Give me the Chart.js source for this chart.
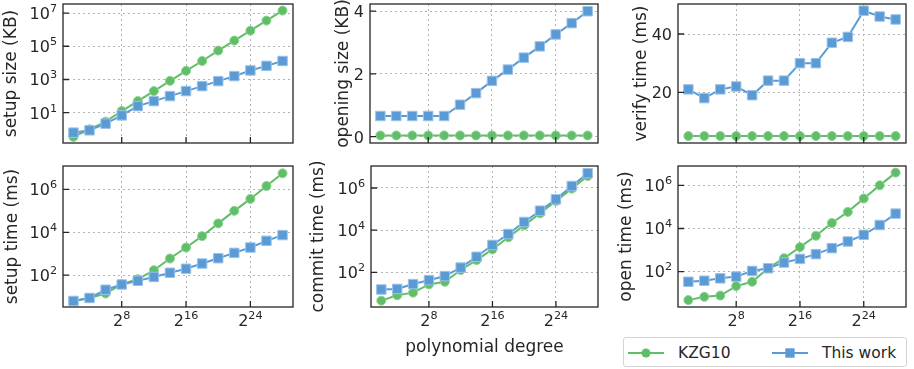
<!DOCTYPE html>
<html>
<head>
<meta charset="utf-8">
<script src="https://cdn.jsdelivr.net/npm/chart.js@4/dist/chart.umd.min.js"></script>
<style>
  body { margin: 0; background: #fff; width: 914px; height: 369px; position: relative; overflow: hidden; font-family: "DejaVu Sans", sans-serif; color: #262626; }
  canvas { position: absolute; }
  #legend { position: absolute; left: 623px; top: 337px; width: 284px; height: 30px; border: 1px solid #d4d4d4; border-radius: 3px; box-sizing: border-box; }
  #legend .item { position: absolute; top: 0; height: 30px; display: flex; align-items: center; font-size: 15.5px; }
  #legend svg { margin-right: 14px; }
</style>
</head>
<body>
<div id="legend"></div>
<script>
// polynomial degree = 2^k
const logDegree = [2, 4, 6, 8, 10, 12, 14, 16, 18, 20, 22, 24, 26, 28];
const xTickExp = [8, 16, 24];
const seriesNames = ['KZG10', 'This work'];

// setup size (KB)
const setupSizeKzg = [0.35, 1.0, 2.9, 12.6, 50, 200, 830, 3300, 13000, 55000, 220000, 870000, 3.5e6, 1.4e7];
const setupSizeOurs = [0.63, 0.87, 2.2, 6.9, 25, 50, 100, 200, 400, 800, 1600, 3500, 6600, 13000];
// opening size (KB)
const openingSizeKzg = [0.04, 0.04, 0.04, 0.04, 0.04, 0.04, 0.04, 0.04, 0.04, 0.04, 0.04, 0.04, 0.04, 0.04];
const openingSizeOurs = [0.66, 0.66, 0.66, 0.66, 0.66, 1.02, 1.39, 1.78, 2.14, 2.52, 2.88, 3.26, 3.62, 4.0];
// verify time (ms)
const verifyKzg = [5, 5, 5, 5, 5, 5, 5, 5, 5, 5, 5, 5, 5, 5];
const verifyOurs = [21, 18, 21, 22, 19, 24, 24, 30, 30, 37, 39, 48, 46, 45];
// setup time (ms)
const setupTimeKzg = [6.3, 8.7, 14, 38, 65, 170, 600, 1950, 6600, 26000, 100000, 360000, 1.44e6, 5.6e6];
const setupTimeOurs = [6.3, 8.7, 21, 37, 55, 83, 130, 200, 350, 620, 1100, 1950, 4000, 7400];
// commit time (ms)
const commitKzg = [4.6, 8.3, 11, 27, 36, 130, 385, 1230, 4600, 17000, 63000, 240000, 930000, 3.7e6];
const commitOurs = [15.5, 16.5, 28, 43, 67, 170, 550, 2000, 6600, 24500, 84000, 290000, 1.24e6, 5.0e6];
// open time (ms)
const openKzg = [4.8, 6.8, 7.8, 21.5, 34, 144, 420, 1370, 4600, 18000, 59000, 245000, 1.0e6, 3.9e6];
const openOurs = [34, 38, 49, 59, 108, 144, 264, 390, 650, 1230, 2500, 5100, 14500, 49000];

const GREEN = '#60bd68';
const BLUE = '#5b9bd5';
const FONT = '"DejaVu Sans", sans-serif';
const INK = '#262626';
const TICK_PX = 16;
const SUP_PX = 11.2;

// layout of the 2x3 grid
const colLeft = [0, 305, 610];
const panels = [
  { canvas: 'c0', col: 0, area: [63, 4, 293, 143], title: 'setup size (KB)', titleX: 12, log: true, yMin: 0.15, yMax: 3.5e7, yTicks: [10, 1e3, 1e5, 1e7], kzg: setupSizeKzg, ours: setupSizeOurs },
  { canvas: 'c1', col: 1, area: [370, 4, 598, 143], title: 'opening size (KB)', titleX: 344, log: false, yMin: -0.2, yMax: 4.23, yTicks: [0, 2, 4], kzg: openingSizeKzg, ours: openingSizeOurs },
  { canvas: 'c2', col: 2, area: [678, 4, 906, 143], title: 'verify time (ms)', titleX: 642, log: false, yMin: 2.6, yMax: 50.3, yTicks: [20, 40], kzg: verifyKzg, ours: verifyOurs },
  { canvas: 'c3', col: 0, area: [63, 166, 293, 307], title: 'setup time (ms)', titleX: 13, log: true, yMin: 3.3, yMax: 1.23e7, yTicks: [1e2, 1e4, 1e6], kzg: setupTimeKzg, ours: setupTimeOurs, xLabels: true },
  { canvas: 'c4', col: 1, area: [371, 166, 598, 307], title: 'commit time (ms)', titleX: 319, log: true, yMin: 2.3, yMax: 1.1e7, yTicks: [1e2, 1e4, 1e6], kzg: commitKzg, ours: commitOurs, xLabels: true, xTitle: 'polynomial degree' },
  { canvas: 'c5', col: 2, area: [678, 166, 906, 307], title: 'open time (ms)', titleX: 627, log: true, yMin: 2.3, yMax: 7.9e6, yTicks: [1e2, 1e4, 1e6], kzg: openKzg, ours: openOurs, xLabels: true }
];

// base with a raised exponent, like matplotlib mathtext
function drawPow(ctx, base, exp, x, baseline, align) {
  ctx.font = `${TICK_PX}px ${FONT}`;
  const wb = ctx.measureText(base).width;
  ctx.font = `${SUP_PX}px ${FONT}`;
  const we = exp === '' ? 0 : ctx.measureText(exp).width;
  const x0 = align === 'right' ? x - wb - we : x - (wb + we) / 2;
  ctx.textAlign = 'left';
  ctx.textBaseline = 'alphabetic';
  ctx.font = `${TICK_PX}px ${FONT}`;
  ctx.fillText(base, x0, baseline);
  if (exp !== '') {
    ctx.font = `${SUP_PX}px ${FONT}`;
    ctx.fillText(exp, x0 + wb, baseline - 7);
  }
}

// box around the plot area, inward tick marks and the tick labels
const frame = {
  id: 'frame',
  afterDraw(chart) {
    const p = chart.config.options.panel;
    const { ctx, chartArea: a, scales: { x, y } } = chart;
    ctx.save();
    ctx.strokeStyle = INK;
    ctx.lineWidth = 1.3;
    ctx.strokeRect(a.left, a.top, a.right - a.left, a.bottom - a.top);
    ctx.beginPath();
    x.ticks.forEach(t => {
      const px = x.getPixelForValue(t.value);
      ctx.moveTo(px, a.bottom); ctx.lineTo(px, a.bottom - 6);
    });
    y.ticks.forEach(t => {
      const py = y.getPixelForValue(t.value);
      ctx.moveTo(a.left, py); ctx.lineTo(a.left + 6, py);
    });
    ctx.stroke();

    ctx.fillStyle = INK;
    y.ticks.forEach(t => {
      const py = y.getPixelForValue(t.value) + 5.8;
      if (p.log) drawPow(ctx, '10', String(Math.round(Math.log10(t.value))), a.left - 6, py, 'right');
      else drawPow(ctx, String(t.value), '', a.left - 6, py, 'right');
    });
    if (p.xLabels) {
      x.ticks.forEach(t => {
        drawPow(ctx, '2', String(t.value), x.getPixelForValue(t.value), a.bottom + 19, 'center');
      });
    }
    ctx.restore();
  }
};

const pts = vals => logDegree.map((k, i) => ({ x: k, y: vals[i] }));

panels.forEach(p => {
  const [L, T, R, B] = p.area;
  const left = colLeft[p.col];
  const top = T - 4;
  const xH = p.xTitle ? 51 : (p.xLabels ? 30 : 4);
  const cv = document.createElement('canvas');
  cv.id = p.canvas;
  cv.width = R + 6 - left;
  cv.height = B - top + xH;
  cv.style.left = left + 'px';
  cv.style.top = top + 'px';
  document.body.appendChild(cv);

  const gridOpts = { color: '#b4b4b4', lineWidth: 1, drawTicks: false };
  const borderOpts = { display: false, dash: [2, 3] };

  new Chart(cv.getContext('2d'), {
    type: 'line',
    data: {
      datasets: [
        {
          label: seriesNames[0], data: pts(p.kzg), order: 1,
          borderColor: GREEN, backgroundColor: GREEN, borderWidth: 2,
          pointStyle: 'circle', pointRadius: 4.5, pointBorderWidth: 1, pointBorderColor: '#8fd294', pointBackgroundColor: GREEN
        },
        {
          label: seriesNames[1], data: pts(p.ours), order: 0,
          borderColor: BLUE, backgroundColor: BLUE, borderWidth: 2,
          pointStyle: 'rect', pointRadius: 6.7, pointBorderWidth: 1, pointBorderColor: '#9cc3e8', pointBackgroundColor: BLUE
        }
      ]
    },
    options: {
      panel: p,
      responsive: false,
      animation: false,
      layout: { padding: { top: 4, right: 6, left: 0, bottom: 0 }, autoPadding: false },
      plugins: { legend: { display: false }, tooltip: { enabled: false } },
      scales: {
        x: {
          type: 'linear', min: 0.7, max: 29.3,
          afterBuildTicks: s => { s.ticks = xTickExp.map(v => ({ value: v })); },
          afterFit: s => { s.height = xH; },
          grid: gridOpts, border: borderOpts,
          ticks: { display: false },
          title: { display: !!p.xTitle, text: p.xTitle || '', color: INK, font: { size: 17, family: FONT }, padding: { top: 0, bottom: 0 } }
        },
        y: {
          type: p.log ? 'logarithmic' : 'linear', min: p.yMin, max: p.yMax,
          afterBuildTicks: s => { s.ticks = p.yTicks.map(v => ({ value: v })); },
          afterFit: s => { s.width = L - left; },
          grid: gridOpts, border: borderOpts,
          ticks: { display: false },
          title: { display: true, text: p.title, color: INK, font: { size: 17, family: FONT }, padding: { top: p.titleX - left - 10.2, bottom: 0 } }
        }
      }
    },
    plugins: [frame]
  });
});

// legend below the bottom-right panel
const legend = document.getElementById('legend');
const legendItems = [
  { name: seriesNames[0], color: GREEN, marker: 'circle', left: 4 },
  { name: seriesNames[1], color: BLUE, marker: 'rect', left: 148 }
];
legendItems.forEach(it => {
  const d = document.createElement('div');
  d.className = 'item';
  d.style.left = it.left + 'px';
  const mk = it.marker === 'circle'
    ? `<circle cx="18" cy="7" r="4.5" fill="${it.color}"/>`
    : `<rect x="13.3" y="2.3" width="9.4" height="9.4" fill="${it.color}"/>`;
  d.innerHTML = `<svg width="36" height="14"><line x1="0" y1="7" x2="36" y2="7" stroke="${it.color}" stroke-width="2"/>${mk}</svg><span>${it.name}</span>`;
  legend.appendChild(d);
});
</script>
</body>
</html>
